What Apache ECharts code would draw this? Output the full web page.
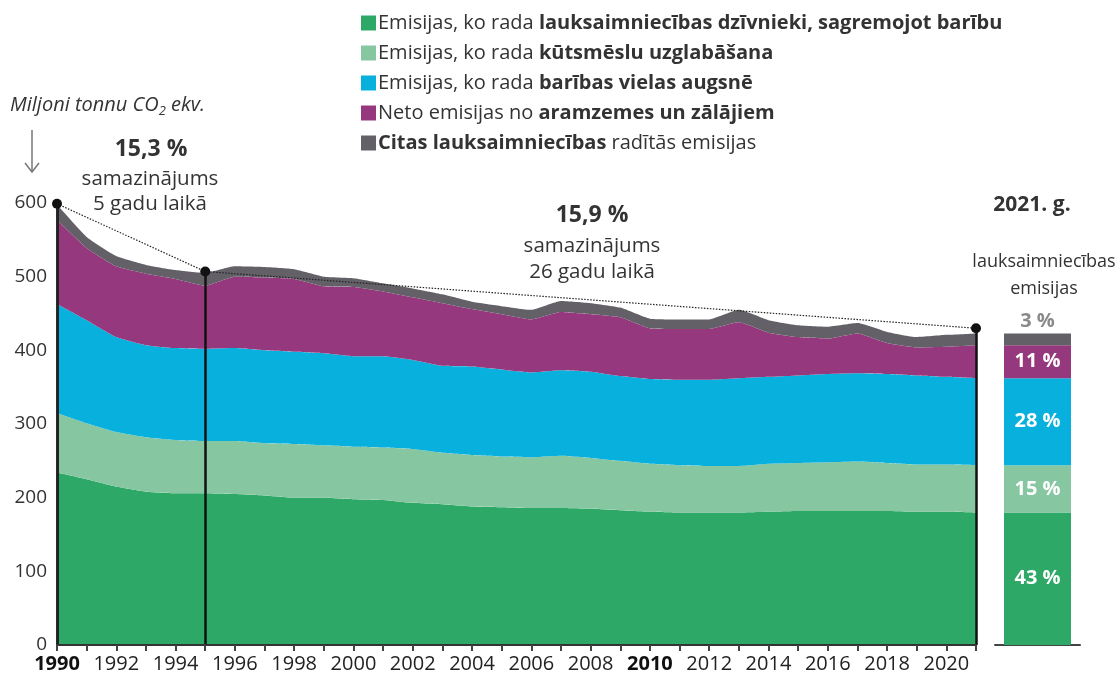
<!DOCTYPE html>
<html>
<head>
<meta charset="utf-8">
<script src="https://cdn.jsdelivr.net/npm/echarts@6/dist/echarts.min.js"></script>
<style>
  html, body { margin: 0; padding: 0; background: #fff; }
  #chart { width: 1116px; height: 684px; }
</style>
</head>
<body>
<div id="chart"></div>
<script>
// dati (miljoni tonnu CO2 ekv.)
const years = ['1990','1991','1992','1993','1994','1995','1996','1997','1998','1999','2000','2001','2002','2003','2004','2005','2006','2007','2008','2009','2010','2011','2012','2013','2014','2015','2016','2017','2018','2019','2020','2021']
const digestion = [234,225,215,208,206,206,205,203,200,200,198,197,193,191,188,187,186,186,185,183,181,180,180,180,181,182,182,182,182,181,181,180]
const manure = [81,76,74,74,72,71,72,71,73,71,71,71,73,70,70,69,69,71,69,67,65,64,63,63,65,65,66,67,65,64,64,64]
const soils = [148,140,129,125,125,125,126,126,125,125,123,124,121,118,120,118,115,116,117,115,115,116,117,119,118,119,120,120,121,121,119,118]
const landUse = [114,98,96,97,94,86,97,99,99,91,94,88,85,85,78,75,72,79,78,80,69,69,69,76,60,52,48,54,42,38,41,45]
const other = [21,15,14,12,12,17,14,14,13,13,12,11,12,12,10,11,13,15,15,13,13,13,13,17,17,16,16,14,15,14,16,16]
// kopsumma atzīmētajos gados
const markYears = ['1990', '1995', '2021']
const markTotals = [599, 507, 430]
// 2021. gada daļas
const shares2021 = ['43 %', '15 %', '28 %', '11 %', '3 %']

const FONT = 'Open Sans'
const colors = ['#2ea866', '#86c6a0', '#08b0dd', '#96387d', '#636068']
const names = [
  'Emisijas, ko rada lauksaimniecības dzīvnieki, sagremojot barību',
  'Emisijas, ko rada kūtsmēslu uzglabāšana',
  'Emisijas, ko rada barības vielas augsnē',
  'Neto emisijas no aramzemes un zālājiem',
  'Citas lauksaimniecības radītās emisijas'
]
const legendRich = {
  [names[0]]: '{n|Emisijas, ko rada }{b|lauksaimniecības dzīvnieki, sagremojot barību}',
  [names[1]]: '{n|Emisijas, ko rada }{b|kūtsmēslu uzglabāšana}',
  [names[2]]: '{n|Emisijas, ko rada }{b|barības vielas augsnē}',
  [names[3]]: '{n|Neto emisijas no }{b|aramzemes un zālājiem}',
  [names[4]]: '{b|Citas lauksaimniecības}{n| radītās emisijas}'
}
const dataSets = [digestion, manure, soils, landUse, other]

const markerData = years.map(y => {
  const i = markYears.indexOf(y)
  return i >= 0 ? markTotals[i] : null
})

const chart = echarts.init(document.getElementById('chart'))

const areaSeries = dataSets.map((d, i) => ({
  name: names[i],
  type: 'line',
  stack: 'total',
  xAxisIndex: 0,
  yAxisIndex: 0,
  data: d,
  symbol: 'none',
  smooth: 0.15,
  lineStyle: { width: 0 },
  areaStyle: { color: colors[i], opacity: 1 },
  itemStyle: { color: colors[i] },
  z: 2
}))

const barSeries = dataSets.map((d, i) => ({
  name: names[i],
  type: 'bar',
  stack: 'bar2021',
  xAxisIndex: 1,
  yAxisIndex: 1,
  barWidth: 67,
  data: [d[d.length - 1]],
  itemStyle: { color: colors[i] },
  label: {
    show: true,
    position: i === 4 ? 'top' : 'inside',
    formatter: shares2021[i],
    color: i === 4 ? '#8a8a8a' : '#fff',
    fontFamily: FONT,
    fontWeight: 'bold',
    fontSize: 20,
    distance: 2
  }
}))

const option = {
  animation: false,
  textStyle: { fontFamily: FONT },
  legend: {
    orient: 'vertical',
    left: 356,
    top: 8,
    itemWidth: 15,
    itemHeight: 15,
    itemGap: 10,
    icon: 'rect',
    data: names,
    formatter: n => legendRich[n],
    textStyle: {
      fontFamily: FONT,
      padding: [0, 0, 0, -3],
      rich: {
        n: { fontSize: 20, lineHeight: 20, color: '#333', fontFamily: FONT },
        b: { fontSize: 20, lineHeight: 20, color: '#333', fontWeight: 'bold', fontFamily: FONT }
      }
    },
    selectedMode: false
  },
  grid: [
    { left: 57, top: 203, width: 919, height: 442, containLabel: false },
    { left: 995, top: 203, width: 85, height: 442, containLabel: false }
  ],
  xAxis: [
    {
      type: 'category',
      gridIndex: 0,
      data: years,
      boundaryGap: false,
      axisLine: { lineStyle: { color: '#333', width: 2 } },
      axisTick: { show: true, interval: 0, length: 6, lineStyle: { color: '#444', width: 2 } },
      axisLabel: {
        interval: 1,
        margin: 9,
        fontSize: 20,
        fontFamily: FONT,
        color: '#222',
        formatter: v => (v === '1990' || v === '2010') ? '{b|' + v + '}' : '{n|' + v + '}',
        rich: {
          n: { fontSize: 20, color: '#222', fontFamily: FONT },
          b: { fontSize: 20, color: '#111', fontWeight: 'bold', fontFamily: FONT }
        }
      },
      z: 5
    },
    {
      type: 'category',
      gridIndex: 1,
      data: ['2021'],
      axisLine: { lineStyle: { color: '#444', width: 2 } },
      axisTick: { show: false },
      axisLabel: { show: false }
    }
  ],
  yAxis: [
    {
      type: 'value',
      gridIndex: 0,
      min: 0,
      max: 600,
      interval: 100,
      axisLine: { show: true, lineStyle: { color: '#222', width: 2.5 } },
      axisTick: { show: false },
      splitLine: { show: false },
      axisLabel: { fontSize: 19, color: '#333', margin: 10, fontFamily: FONT },
      z: 5
    },
    {
      type: 'value',
      gridIndex: 1,
      min: 0,
      max: 600,
      show: false
    }
  ],
  series: [
    ...areaSeries,
    {
      name: 'markers',
      type: 'line',
      xAxisIndex: 0,
      yAxisIndex: 0,
      data: markerData,
      connectNulls: true,
      symbol: 'circle',
      symbolSize: 10,
      showSymbol: true,
      itemStyle: { color: '#111' },
      lineStyle: { color: '#222', width: 1.2, type: [1.5, 1.5] },
      z: 10,
      markLine: {
        symbol: 'none',
        silent: true,
        label: { show: false },
        lineStyle: { color: '#111', width: 2.5, type: 'solid' },
        data: markYears.map((y, i) => [
          { coord: [y, 0] },
          { coord: [y, markTotals[i]] }
        ])
      }
    },
    ...barSeries
  ],
  graphic: [
    {
      type: 'text',
      left: 10, top: 95,
      style: {
        text: '{i|Miljoni tonnu CO}{s|2}{i| ekv.}',
        rich: {
          i: { fontSize: 20, fontStyle: 'italic', fill: '#333', fontFamily: FONT },
          s: { fontSize: 13, fontStyle: 'italic', fill: '#333', fontFamily: FONT, padding: [12, 0, 0, 0] }
        }
      }
    },
    {
      type: 'line',
      shape: { x1: 32, y1: 130, x2: 32, y2: 172 },
      style: { stroke: '#777', lineWidth: 1.5 }
    },
    {
      type: 'polyline',
      shape: { points: [[25, 163], [32, 172], [39, 163]] },
      style: { stroke: '#777', lineWidth: 1.5, fill: null }
    },
    {
      type: 'text', x: 151, y: 138,
      style: { text: '15,3 %', fontSize: 23, fontWeight: 'bold', fill: '#333', textAlign: 'center', fontFamily: FONT }
    },
    {
      type: 'text', x: 150, y: 167,
      style: { text: 'samazinājums\n5 gadu laikā', fontSize: 20.5, lineHeight: 25, fill: '#333', textAlign: 'center', fontFamily: FONT }
    },
    {
      type: 'text', x: 592, y: 204,
      style: { text: '15,9 %', fontSize: 23, fontWeight: 'bold', fill: '#333', textAlign: 'center', fontFamily: FONT }
    },
    {
      type: 'text', x: 592, y: 233,
      style: { text: 'samazinājums\n26 gadu laikā', fontSize: 20.5, lineHeight: 26, fill: '#333', textAlign: 'center', fontFamily: FONT }
    },
    {
      type: 'text', x: 1032, y: 195,
      style: { text: '2021. g.', fontSize: 21, fontWeight: 'bold', fill: '#333', textAlign: 'center', fontFamily: FONT }
    },
    {
      type: 'text', x: 1044, y: 248,
      style: { text: 'lauksaimniecības\nemisijas', fontSize: 18, lineHeight: 27, fill: '#333', textAlign: 'center', fontFamily: FONT }
    }
  ]
}

chart.setOption(option)
</script>
</body>
</html>
